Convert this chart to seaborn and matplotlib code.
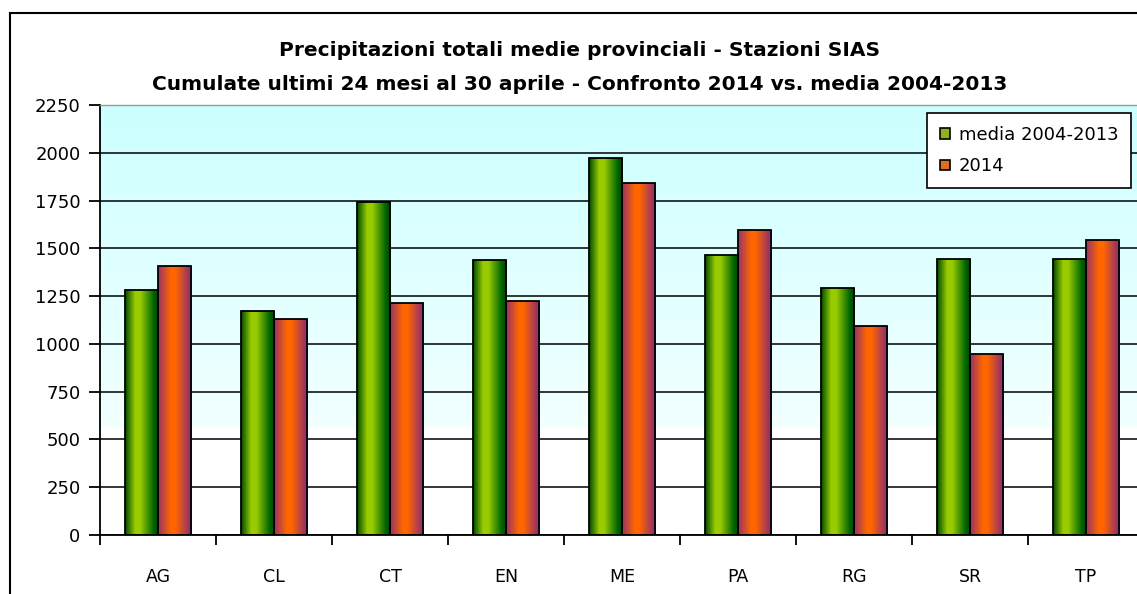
import numpy as np
import pandas as pd
import seaborn as sns
import matplotlib.pyplot as plt
from matplotlib.colors import LinearSegmentedColormap, to_rgb
from matplotlib.patches import Rectangle

province = ['AG', 'CL', 'CT', 'EN', 'ME', 'PA', 'RG', 'SR', 'TP']
media_2004_2013 = [1280, 1170, 1740, 1440, 1975, 1465, 1295, 1445, 1445]
anno_2014 = [1405, 1130, 1215, 1225, 1840, 1595, 1095, 945, 1545]
serie = ['media 2004-2013', '2014']

df = pd.DataFrame({
    'provincia': province * 2,
    'valore': media_2004_2013 + anno_2014,
    'serie': [serie[0]] * len(province) + [serie[1]] * len(province),
})

sns.set_style('white')
plt.rcParams['font.family'] = ['DejaVu Sans']
plt.rcParams['text.color'] = 'black'
plt.rcParams['xtick.color'] = 'black'
plt.rcParams['ytick.color'] = 'black'

fig = plt.figure(figsize=(11.37, 5.94), dpi=100)
ax = fig.add_axes([100 / 1137, 59 / 594, 1044 / 1137, 430 / 594])

sns.barplot(data=df, x='provincia', y='valore', hue='serie',
            palette=['#99CC00', '#FF6600'], width=0.57, gap=0,
            edgecolor='black', linewidth=1.3, errorbar=None, ax=ax)

ax.set_xlim(-0.5, 8.5)
ax.set_ylim(0, 2250)
ax.set_yticks(np.arange(0, 2251, 250))

# background: light cyan fading to white
frac = np.linspace(0, 1, 300)[:, None]
top = np.array(to_rgb('#CCFFFF'))
low = np.array(to_rgb('#F2FFFF'))
t = np.clip((frac - 0.25) / 0.75, 0, 1)
bg = low + (top - low) * t
bg[frac[:, 0] < 0.25] = 1.0
bg = np.repeat(bg[:, None, :], 2, axis=1)
ax.imshow(bg, extent=[0, 1, 0, 1], transform=ax.transAxes, origin='lower',
          aspect='auto', zorder=0)

ax.grid(axis='y', color='black', linewidth=1.1, zorder=0.5)
ax.set_axisbelow(True)

# gradient fill for the bars
green = LinearSegmentedColormap.from_list('g', [
    (0.0, '#004d00'), (0.3, '#99CC00'), (0.45, '#99CC00'),
    (0.85, '#006600'), (1.0, '#004400')])
orange = LinearSegmentedColormap.from_list('o', [
    (0.0, '#993366'), (0.38, '#FF6600'), (0.52, '#FF6600'),
    (0.92, '#993366'), (1.0, '#993366')])
ramp = np.linspace(0, 1, 64)[None, :]
bars = [p for p in ax.patches if p.get_height() > 0]
for i, p in enumerate(bars):
    cmap = green if i < len(province) else orange
    x, w, h = p.get_x(), p.get_width(), p.get_height()
    im = ax.imshow(ramp, cmap=cmap, extent=[x, x + w, 0, h], aspect='auto',
                   zorder=2)
    im.set_clip_path(p)
    p.set_facecolor('none')
    p.set_zorder(3)
ax.set_xlim(-0.5, 8.5)
ax.set_ylim(0, 2250)

# axes styling
for s in ['left', 'bottom']:
    ax.spines[s].set_color('black')
    ax.spines[s].set_linewidth(1.3)
for s in ['top', 'right']:
    ax.spines[s].set_color('#999999')
    ax.spines[s].set_linewidth(1)

ax.set_xticks(range(len(province)))
ax.set_xticklabels(province)
ax.set_xticks(np.arange(-0.5, 9, 1), minor=True)
ax.tick_params(axis='x', which='major', length=0, pad=24, labelsize=12.5)
ax.tick_params(axis='x', which='minor', length=7, width=1.3, color='black',
               direction='out', bottom=True)
ax.tick_params(axis='y', length=8, width=1.3, color='black', direction='out',
               left=True, labelsize=13, pad=6)
ax.set_xlabel('')
ax.set_ylabel('')

fig.text(0.51, 1 - 51 / 594, 'Precipitazioni totali medie provinciali - Stazioni SIAS',
         ha='center', va='center', fontsize=14.5, fontweight='bold')
fig.text(0.51, 1 - 85 / 594,
         'Cumulate ultimi 24 mesi al 30 aprile - Confronto 2014 vs. media 2004-2013',
         ha='center', va='center', fontsize=14.5, fontweight='bold')

handles, labels = ax.get_legend_handles_labels()
for h in handles:
    h.set_edgecolor('black')
    h.set_linewidth(1.2)
leg = ax.legend(handles, labels, loc='upper right', bbox_to_anchor=(0.9875, 0.981),
                borderaxespad=0, frameon=True, fancybox=False, edgecolor='black',
                framealpha=1, fontsize=13, handlelength=0.55, handleheight=0.55,
                handletextpad=0.5, labelspacing=0.75, borderpad=0.7)
leg.get_frame().set_linewidth(1.2)

# outer chart border
fig.patches.append(Rectangle((10 / 1137, -0.1), 1.2, 0.1 + 581 / 594,
                             transform=fig.transFigure, fill=False,
                             edgecolor='black', linewidth=1.5))

fig.savefig('out.png', dpi=100)
